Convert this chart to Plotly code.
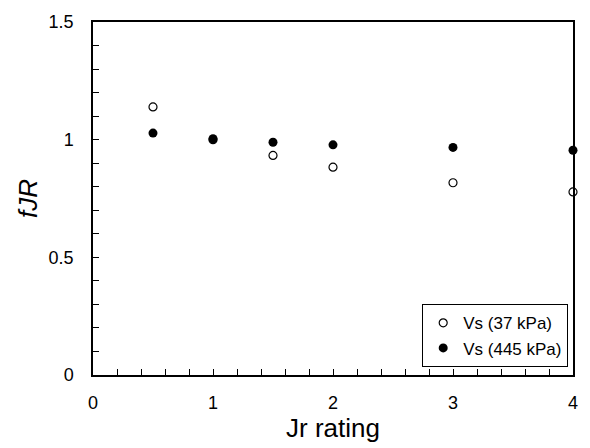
import plotly.graph_objects as go

jr_rating = [0.5, 1.0, 1.5, 2.0, 3.0, 4.0]
fjr_37kpa = [1.139, 1.0, 0.933, 0.883, 0.817, 0.778]
fjr_445kpa = [1.028, 1.004, 0.989, 0.978, 0.967, 0.955]
series_names = ["Vs (37 kPa)", "Vs (445 kPa)"]
x_ticks = [0, 1, 2, 3, 4]
y_ticks = [0, 0.5, 1, 1.5]

FONT = "Arial, Liberation Sans, sans-serif"

fig = go.Figure()
fig.add_trace(go.Scatter(
    x=jr_rating, y=fjr_37kpa, mode="markers", name=series_names[0],
    marker=dict(symbol="circle", size=8, color="white", line=dict(color="black", width=1.2)),
    cliponaxis=False,
))
fig.add_trace(go.Scatter(
    x=jr_rating, y=fjr_445kpa, mode="markers", name=series_names[1],
    marker=dict(symbol="circle", size=9, color="black", line=dict(color="black", width=0)),
    cliponaxis=False,
))

axis_common = dict(
    showline=True, linecolor="black", linewidth=1.5, mirror=True,
    ticks="inside", ticklen=6, tickwidth=1, tickcolor="black",
    showgrid=False, zeroline=False,
    tickfont=dict(family=FONT, size=18, color="black"),
)

fig.update_xaxes(
    range=[0, 4], tickvals=x_ticks, ticklabelstandoff=11,
    minor=dict(dtick=0.2, ticks="inside", ticklen=6, tickcolor="black", showgrid=False),
    title=dict(text="Jr rating", font=dict(family=FONT, size=26, color="black"), standoff=4),
    **axis_common,
)
fig.update_yaxes(
    range=[0, 1.5], tickvals=y_ticks, ticklabelstandoff=14,
    minor=dict(dtick=0.1, ticks="inside", ticklen=6, tickcolor="black", showgrid=False),
    title=dict(text="<i>fJR</i>", font=dict(family=FONT, size=26, color="black"), standoff=4),
    **axis_common,
)

fig.update_layout(
    width=590, height=448,
    margin=dict(l=93, r=12, t=20, b=68),
    paper_bgcolor="white", plot_bgcolor="white",
    font=dict(family=FONT, color="black"),
    legend=dict(
        x=0.99, y=0.022, xanchor="right", yanchor="bottom",
        bgcolor="white", bordercolor="black", borderwidth=1,
        font=dict(family=FONT, size=17, color="black"),
        itemwidth=30, tracegroupgap=0,
    ),
    showlegend=True,
)

fig.write_html(
    "out.html",
    config={"displayModeBar": False},
    post_script="document.body.style.margin='0';document.body.style.overflow='hidden';",
)
